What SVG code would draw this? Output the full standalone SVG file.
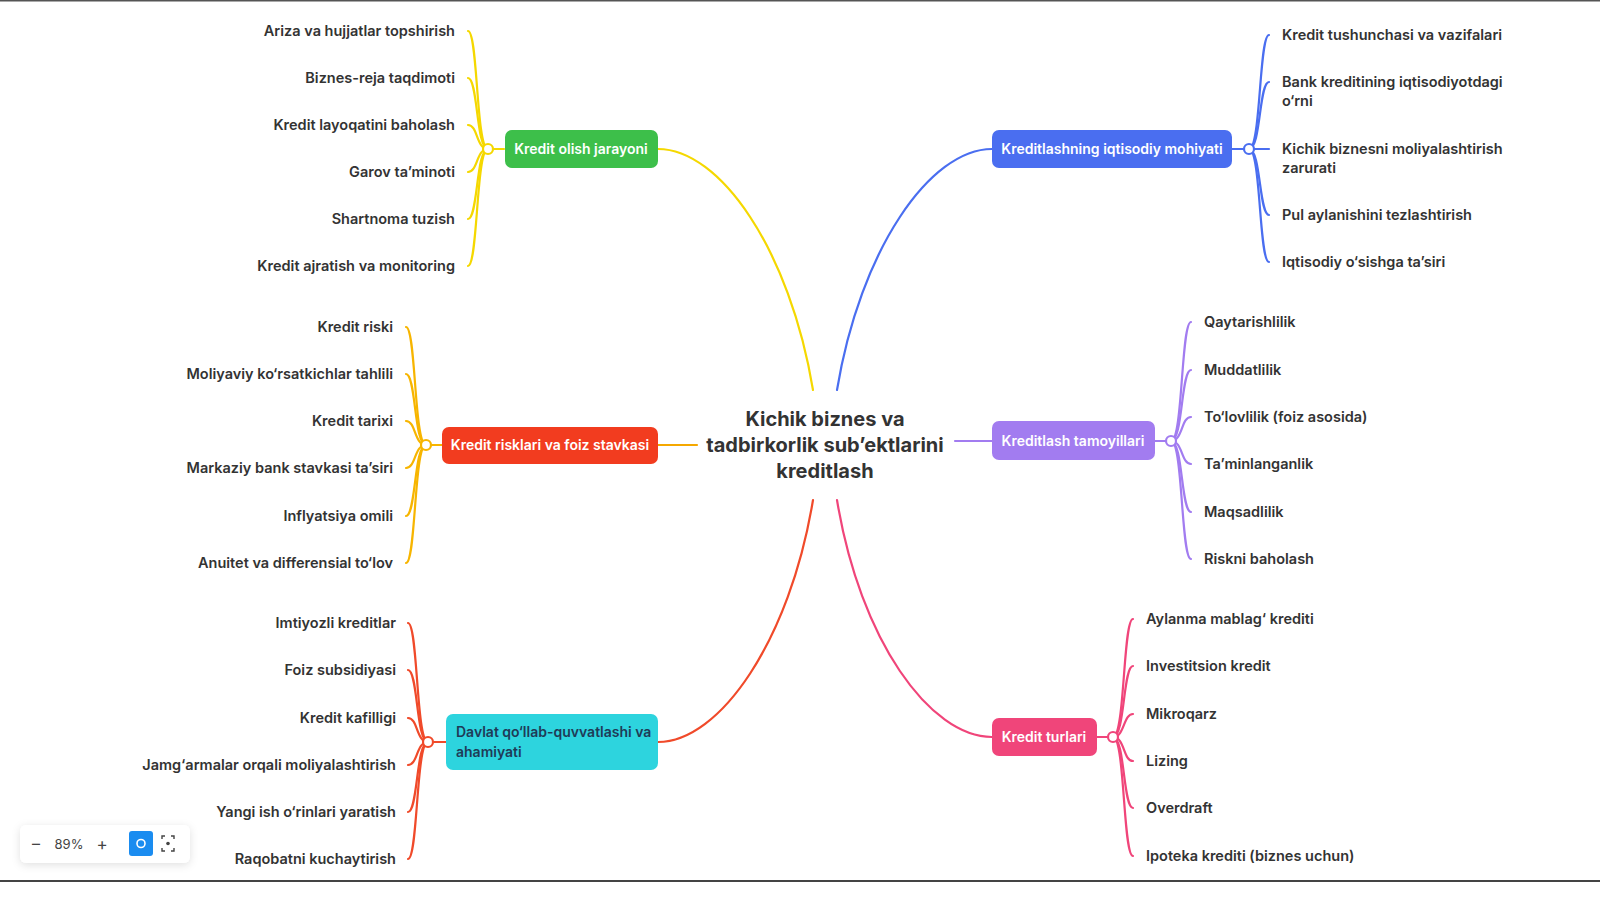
<svg xmlns="http://www.w3.org/2000/svg" width="1600" height="899" viewBox="0 0 1600 899">
<defs>
<style>
text{font-family:Inter,"Noto Sans","Liberation Sans",sans-serif}
.c{font-size:14.5px;font-weight:600;fill:#333}
.l{text-anchor:end}
.n{font-size:14px;font-weight:600;fill:#fff}
.ln{fill:none;stroke-width:2.2;stroke-linecap:round}
.dot{fill:#fff;stroke-width:2.2}
</style>
<filter id="sh" x="-20%" y="-40%" width="140%" height="180%"><feDropShadow dx="0" dy="2" stdDeviation="4" flood-opacity="0.12"/></filter>
</defs>
<rect width="1600" height="899" fill="#fff"/>
<rect x="0" y="0" width="1600" height="1.5" fill="#555"/>
<rect x="0" y="880" width="1600" height="19" fill="#fff"/>
<rect x="0" y="880" width="1600" height="2" fill="#444"/>

<g id="connectors">
<path class="ln" stroke="#f5d800" d="M813,390 C790,250 720,149 658,149"/>
<path class="ln" stroke="#f5a800" d="M697,445 L658,445"/>
<path class="ln" stroke="#f04a2a" d="M813,500 C790,640 720,742 658,742"/>
<path class="ln" stroke="#4a6ef0" d="M837,390 C860,250 930,149 992,149"/>
<path class="ln" stroke="#a27cf0" d="M955,441 L992,441"/>
<path class="ln" stroke="#f0457a" d="M837,500 C860,640 930,737 992,737"/>
<g stroke="#f5d800">
<path class="ln" d="M488,149 L504,149"/>
<path class="ln" d="M488,149 C476,149 478,31 468,31"/>
<path class="ln" d="M488,149 C476,149 478,78 468,78"/>
<path class="ln" d="M488,149 C476,149 478,125 468,125"/>
<path class="ln" d="M488,149 C476,149 478,172 468,172"/>
<path class="ln" d="M488,149 C476,149 478,219 468,219"/>
<path class="ln" d="M488,149 C476,149 478,266 468,266"/>
<circle class="dot" stroke="#f5d800" cx="488" cy="149" r="5"/>
</g>
<g stroke="#f7b500">
<path class="ln" d="M426,445 L442,445"/>
<path class="ln" d="M426,445 C414,445 416,327 406,327"/>
<path class="ln" d="M426,445 C414,445 416,374 406,374"/>
<path class="ln" d="M426,445 C414,445 416,421 406,421"/>
<path class="ln" d="M426,445 C414,445 416,468 406,468"/>
<path class="ln" d="M426,445 C414,445 416,516 406,516"/>
<path class="ln" d="M426,445 C414,445 416,563 406,563"/>
<circle class="dot" cx="426" cy="445" r="5"/>
</g>
<g stroke="#f04a2a">
<path class="ln" d="M428,742 L446,742"/>
<path class="ln" d="M428,742 C416,742 418,623 408,623"/>
<path class="ln" d="M428,742 C416,742 418,670 408,670"/>
<path class="ln" d="M428,742 C416,742 418,718 408,718"/>
<path class="ln" d="M428,742 C416,742 418,765 408,765"/>
<path class="ln" d="M428,742 C416,742 418,812 408,812"/>
<path class="ln" d="M428,742 C416,742 418,859 408,859"/>
<circle class="dot" cx="428" cy="742" r="5"/>
</g>
<g stroke="#4a6ef0">
<path class="ln" d="M1232,149 L1249,149"/>
<path class="ln" d="M1249,149 C1261,149 1259,35 1269,35"/>
<path class="ln" d="M1249,149 C1261,149 1259,82 1269,82"/>
<path class="ln" d="M1249,149 C1261,149 1259,149 1269,149"/>
<path class="ln" d="M1249,149 C1261,149 1259,215 1269,215"/>
<path class="ln" d="M1249,149 C1261,149 1259,262 1269,262"/>
<circle class="dot" cx="1249" cy="149" r="5"/>
</g>
<g stroke="#a27cf0">
<path class="ln" d="M1155,441 L1171,441"/>
<path class="ln" d="M1171,441 C1183,441 1181,322 1191,322"/>
<path class="ln" d="M1171,441 C1183,441 1181,370 1191,370"/>
<path class="ln" d="M1171,441 C1183,441 1181,417 1191,417"/>
<path class="ln" d="M1171,441 C1183,441 1181,464 1191,464"/>
<path class="ln" d="M1171,441 C1183,441 1181,512 1191,512"/>
<path class="ln" d="M1171,441 C1183,441 1181,559 1191,559"/>
<circle class="dot" cx="1171" cy="441" r="5"/>
</g>
<g stroke="#f0457a">
<path class="ln" d="M1097,737 L1113,737"/>
<path class="ln" d="M1113,737 C1125,737 1123,619 1133,619"/>
<path class="ln" d="M1113,737 C1125,737 1123,666 1133,666"/>
<path class="ln" d="M1113,737 C1125,737 1123,714 1133,714"/>
<path class="ln" d="M1113,737 C1125,737 1123,761 1133,761"/>
<path class="ln" d="M1113,737 C1125,737 1123,808 1133,808"/>
<path class="ln" d="M1113,737 C1125,737 1123,856 1133,856"/>
<circle class="dot" cx="1113" cy="737" r="5"/>
</g>
</g>

<g id="center">
<text x="825" y="426" text-anchor="middle" font-size="20" font-weight="700" fill="#333">Kichik biznes va</text>
<text x="825" y="452" text-anchor="middle" font-size="20" font-weight="700" fill="#333">tadbirkorlik sub’ektlarini</text>
<text x="825" y="478" text-anchor="middle" font-size="20" font-weight="700" fill="#333">kreditlash</text>
</g>

<g id="n1"><rect x="505" y="130" width="153" height="38" rx="7" fill="#3dbf4a"/><text class="n" x="581" y="154" text-anchor="middle">Kredit olish jarayoni</text></g>
<g id="n1c">
<text class="c l" x="455" y="36">Ariza va hujjatlar topshirish</text>
<text class="c l" x="455" y="83">Biznes-reja taqdimoti</text>
<text class="c l" x="455" y="130">Kredit layoqatini baholash</text>
<text class="c l" x="455" y="177">Garov ta’minoti</text>
<text class="c l" x="455" y="224">Shartnoma tuzish</text>
<text class="c l" x="455" y="271">Kredit ajratish va monitoring</text>
</g>

<g id="n2"><rect x="442" y="427" width="216" height="37" rx="7" fill="#f23c1f"/><text class="n" x="550" y="450" text-anchor="middle">Kredit risklari va foiz stavkasi</text></g>
<g id="n2c">
<text class="c l" x="393" y="332">Kredit riski</text>
<text class="c l" x="393" y="379">Moliyaviy ko‘rsatkichlar tahlili</text>
<text class="c l" x="393" y="426">Kredit tarixi</text>
<text class="c l" x="393" y="473">Markaziy bank stavkasi ta’siri</text>
<text class="c l" x="393" y="521">Inflyatsiya omili</text>
<text class="c l" x="393" y="568">Anuitet va differensial to‘lov</text>
</g>

<g id="n3"><rect x="446" y="714" width="212" height="56" rx="7" fill="#2dd4de"/><text x="456" y="737" font-size="14" font-weight="600" fill="#1f3b57">Davlat qo‘llab-quvvatlashi va</text><text x="456" y="757" font-size="14" font-weight="600" fill="#1f3b57">ahamiyati</text></g>
<g id="n3c">
<text class="c l" x="396" y="628">Imtiyozli kreditlar</text>
<text class="c l" x="396" y="675">Foiz subsidiyasi</text>
<text class="c l" x="396" y="723">Kredit kafilligi</text>
<text class="c l" x="396" y="770">Jamg‘armalar orqali moliyalashtirish</text>
<text class="c l" x="396" y="817">Yangi ish o‘rinlari yaratish</text>
<text class="c l" x="396" y="864">Raqobatni kuchaytirish</text>
</g>

<g id="n4"><rect x="992" y="130" width="240" height="38" rx="7" fill="#4a6ef0"/><text class="n" x="1112" y="154" text-anchor="middle">Kreditlashning iqtisodiy mohiyati</text></g>
<g id="n4c">
<text class="c" x="1282" y="40">Kredit tushunchasi va vazifalari</text>
<text class="c" x="1282" y="87">Bank kreditining iqtisodiyotdagi</text>
<text class="c" x="1282" y="106">o‘rni</text>
<text class="c" x="1282" y="154">Kichik biznesni moliyalashtirish</text>
<text class="c" x="1282" y="173">zarurati</text>
<text class="c" x="1282" y="220">Pul aylanishini tezlashtirish</text>
<text class="c" x="1282" y="267">Iqtisodiy o‘sishga ta’siri</text>
</g>

<g id="n5"><rect x="992" y="421" width="163" height="39" rx="7" fill="#a27cf0"/><text class="n" x="1073" y="446" text-anchor="middle">Kreditlash tamoyillari</text></g>
<g id="n5c">
<text class="c" x="1204" y="327">Qaytarishlilik</text>
<text class="c" x="1204" y="375">Muddatlilik</text>
<text class="c" x="1204" y="422">To‘lovlilik (foiz asosida)</text>
<text class="c" x="1204" y="469">Ta’minlanganlik</text>
<text class="c" x="1204" y="517">Maqsadlilik</text>
<text class="c" x="1204" y="564">Riskni baholash</text>
</g>

<g id="n6"><rect x="992" y="718" width="105" height="38" rx="7" fill="#f0457a"/><text class="n" x="1044" y="742" text-anchor="middle">Kredit turlari</text></g>
<g id="n6c">
<text class="c" x="1146" y="624">Aylanma mablag‘ krediti</text>
<text class="c" x="1146" y="671">Investitsion kredit</text>
<text class="c" x="1146" y="719">Mikroqarz</text>
<text class="c" x="1146" y="766">Lizing</text>
<text class="c" x="1146" y="813">Overdraft</text>
<text class="c" x="1146" y="861">Ipoteka krediti (biznes uchun)</text>
</g>

<g id="toolbar">
<rect x="20" y="825" width="170" height="38" rx="6" fill="#fff" filter="url(#sh)"/>
<text x="36" y="849" font-size="16" fill="#444" text-anchor="middle">–</text>
<text x="69" y="849" font-size="13" fill="#444" text-anchor="middle">89%</text>
<text x="102" y="850" font-size="17" fill="#444" text-anchor="middle">+</text>
<rect x="129" y="831" width="24" height="25" rx="3" fill="#1a8cf0"/>
<circle cx="141" cy="843.5" r="4" fill="none" stroke="#fff" stroke-width="1.6"/>
<path d="M162,839 v-3 h3 M171,836 h3 v3 M174,848 v3 h-3 M165,851 h-3 v-3" fill="none" stroke="#444" stroke-width="1.4"/>
<circle cx="168" cy="843.5" r="1.8" fill="#444"/>
</g>
</svg>
